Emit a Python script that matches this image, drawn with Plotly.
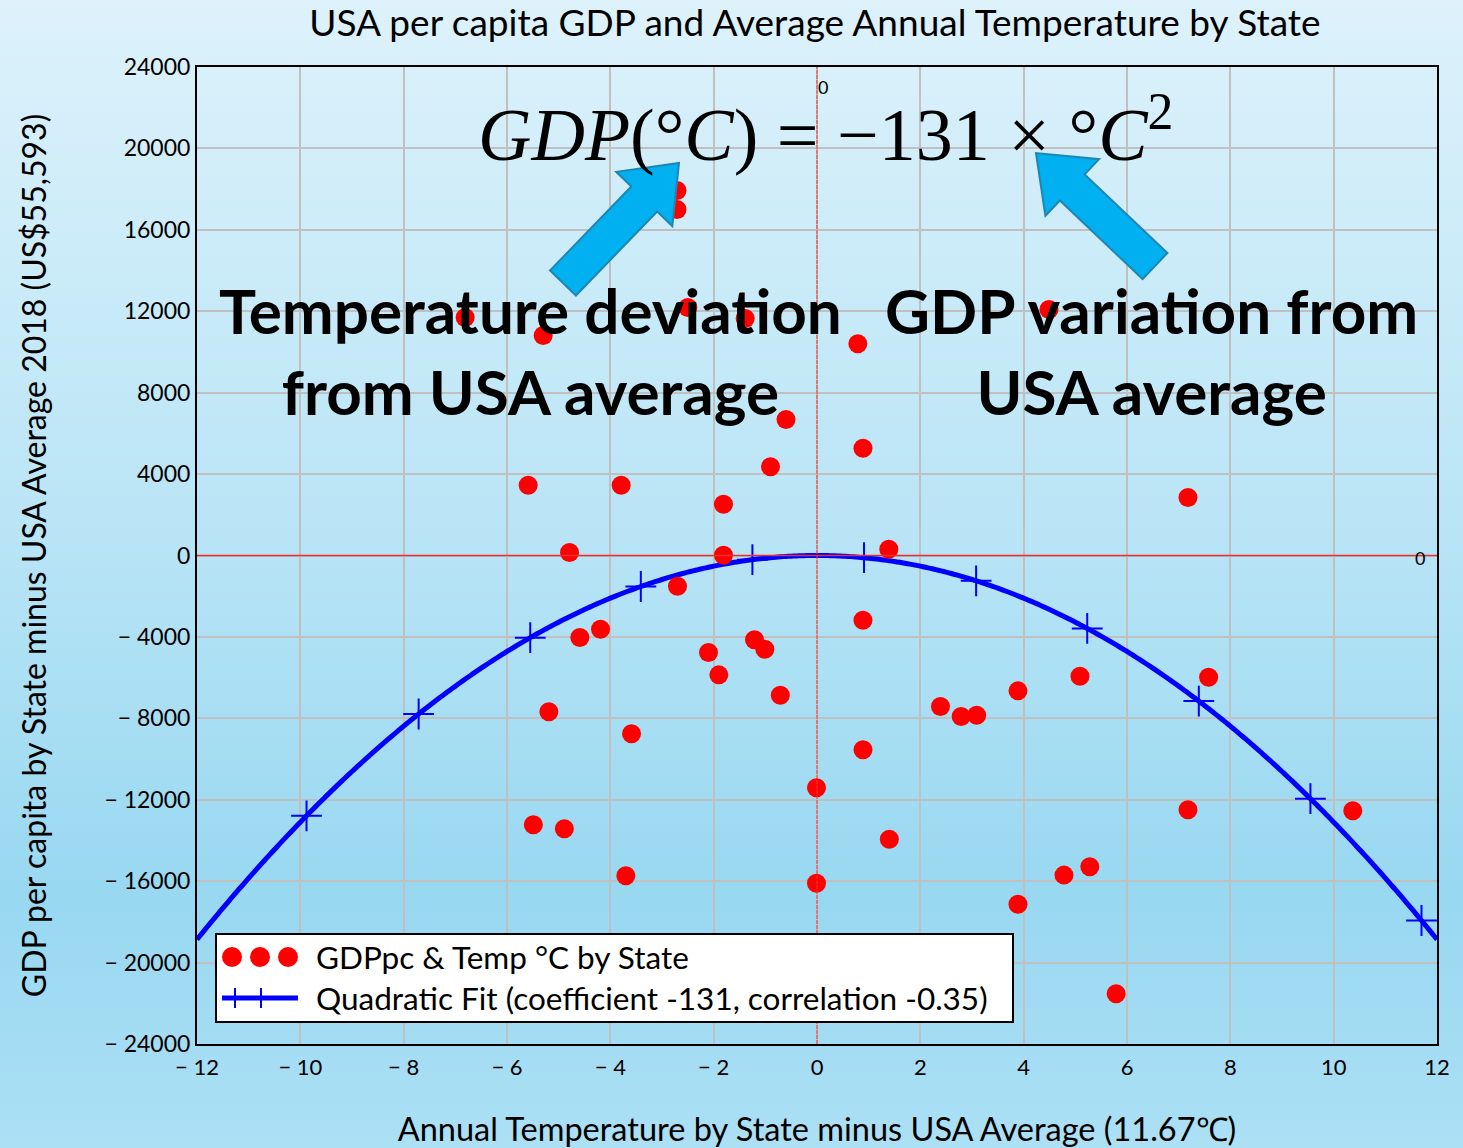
import numpy as np
import plotly.graph_objects as go

# Deviation of each state's mean annual temperature from the US mean (11.67 °C)
temp_dev = [
    -2.71, -2.71, -6.81, -5.30, -2.50, -1.39, 0.79, 4.49,
    -0.60, 0.89, -0.90, -5.59, -3.79, -1.81, 7.18, -4.79,
    -1.81, 1.39, -2.70, 0.89, -4.59, -4.19, -2.10, -1.21,
    -1.01, -1.90, -0.71, 3.89, 5.09, 7.58, 2.39, 2.79,
    3.09, -5.19, -3.59, 0.89, -0.01, 7.18, 10.37, -5.49,
    -4.89, 1.40, -3.70, -0.01, 4.78, 5.28, 3.89, 5.79,
]
# Deviation of each state's 2018 GDP per capita from the US average (US$55,593)
gdp_dev = [
    17933, 16999, 11693, 10809, 12184, 11644, 10401, 12086,
    6682, 5272, 4357, 3454, 3454, 2521, 2850, 147,
    16, 310, -1507, -3179, -4029, -3619, -4766, -4143,
    -4602, -5864, -6863, -6650, -5928, -5977, -7419, -7910,
    -7844, -7680, -8761, -9547, -11413, -12495, -12545, -13231,
    -13427, -13938, -15737, -16099, -15703, -15295, -17131, -21534,
]

# Quadratic fit GDP = coef * dT^2 and the temperatures where its markers sit
FIT_COEF = -131
fit_marker_temps = [-9.88, -7.71, -5.55, -3.41, -1.25, 0.91, 3.08, 5.23, 7.39, 9.55, 11.70]

x_tick_vals = [-12, -10, -8, -6, -4, -2, 0, 2, 4, 6, 8, 10, 12]
x_tick_text = ["\u2212 12", "\u2212 10", "\u2212 8", "\u2212 6", "\u2212 4", "\u2212 2",
               "0", "2", "4", "6", "8", "10", "12"]
y_tick_vals = [-24000, -20000, -16000, -12000, -8000, -4000, 0,
               4000, 8000, 12000, 16000, 20000, 24000]
y_tick_text = ["\u2212 24000", "\u2212 20000", "\u2212 16000", "\u2212 12000", "\u2212 8000",
               "\u2212 4000", "0", "4000", "8000", "12000", "16000", "20000", "24000"]

W, H = 1463, 1148
ML, MR, MT, MB = 197, 26, 67, 104
PW, PH = W - ML - MR, H - MT - MB


def pxx(x):
    return (x - ML) / PW


def pxy(y):
    return 1 - (y - MT) / PH


fig = go.Figure()

# fitted parabola
fit_x = np.linspace(-12, 12, 481)
fig.add_trace(go.Scatter(
    x=fit_x, y=FIT_COEF * fit_x ** 2, mode="lines",
    line=dict(color="#0000ff", width=5, simplify=False), hoverinfo="skip", showlegend=False,
))
mk = np.array(fit_marker_temps)
fig.add_trace(go.Scatter(
    x=mk, y=FIT_COEF * mk ** 2, mode="markers",
    marker=dict(symbol="cross-thin", size=22, line=dict(color="#0000ff", width=2)),
    hoverinfo="skip", showlegend=False,
))
# state points
fig.add_trace(go.Scatter(
    x=temp_dev, y=gdp_dev, mode="markers",
    marker=dict(color="#ff0000", size=19, line=dict(width=0)),
    showlegend=False,
))

shapes = []

# vertical background gradient
stops = [(0.0, (221, 242, 251)), (0.45, (186, 229, 246)),
         (0.78, (152, 216, 241)), (1.0, (172, 224, 245))]


def grad(t):
    for (t0, c0), (t1, c1) in zip(stops[:-1], stops[1:]):
        if t <= t1:
            f = (t - t0) / (t1 - t0)
            return "rgb(%d,%d,%d)" % tuple(round(a + (b - a) * f) for a, b in zip(c0, c1))
    return "rgb(%d,%d,%d)" % stops[-1][1]


band = 8
for y0 in range(0, H, band):
    y1 = min(H, y0 + band + 1)
    shapes.append(dict(type="rect", xref="paper", yref="paper", layer="below",
                       x0=pxx(-5), x1=pxx(W + 5), y0=pxy(y0), y1=pxy(y1),
                       fillcolor=grad((y0 + band / 2) / H), line=dict(width=0)))

# red crosshair through the origin
shapes.append(dict(type="line", xref="x", yref="paper", x0=0, x1=0, y0=0, y1=1,
                   line=dict(color="#ff3030", width=1, dash="4px,1px")))
shapes.append(dict(type="line", xref="paper", yref="y", x0=0, x1=1, y0=0, y1=0,
                   line=dict(color="#e83030", width=1.5)))


# block arrows pointing at the equation
def block_arrow(tail, tip, shaft_w, head_w, head_len):
    t = np.array(tail, float)
    p = np.array(tip, float)
    d = (p - t) / np.linalg.norm(p - t)
    n = np.array([-d[1], d[0]])
    base = p - d * head_len
    pts = [t + n * shaft_w / 2, base + n * shaft_w / 2, base + n * head_w / 2, p,
           base - n * head_w / 2, base - n * shaft_w / 2, t - n * shaft_w / 2]
    path = "M " + " L ".join("%.5f,%.5f" % (pxx(q[0]), pxy(q[1])) for q in pts) + " Z"
    return dict(type="path", xref="paper", yref="paper", path=path,
                fillcolor="#00b0f0", line=dict(color="#1f86b3", width=2))


shapes.append(block_arrow((563, 283), (679, 163), 36, 78, 50))
shapes.append(block_arrow((1155, 266), (1036, 153), 36, 78, 50))

# legend box
LX0, LX1, LY0, LY1 = 216, 1013, 934, 1022
shapes.append(dict(type="rect", xref="paper", yref="paper",
                   x0=pxx(LX0), x1=pxx(LX1), y0=pxy(LY0), y1=pxy(LY1),
                   fillcolor="white", line=dict(color="black", width=2)))
for cx in (232, 260, 288):
    r = 10
    shapes.append(dict(type="circle", xref="paper", yref="paper",
                       x0=pxx(cx - r), x1=pxx(cx + r), y0=pxy(957 - r), y1=pxy(957 + r),
                       fillcolor="#ff0000", line=dict(width=0)))
shapes.append(dict(type="line", xref="paper", yref="paper",
                   x0=pxx(222), x1=pxx(298), y0=pxy(998), y1=pxy(998),
                   line=dict(color="#0000ff", width=5)))
for cx in (235, 261):
    shapes.append(dict(type="line", xref="paper", yref="paper",
                       x0=pxx(cx), x1=pxx(cx), y0=pxy(988), y1=pxy(1008),
                       line=dict(color="#0000ff", width=2)))

font_main = "Lato, 'Open Sans', sans-serif"
annotations = [
    dict(text="GDPpc &amp; Temp \u00b0C by State", xref="paper", yref="paper",
         x=pxx(314), y=pxy(957), xanchor="left", yanchor="middle", showarrow=False,
         font=dict(family=font_main, size=31.5, color="black")),
    dict(text="Quadratic Fit (coefficient -131, correlation -0.35)", xref="paper", yref="paper",
         x=pxx(314), y=pxy(998), xanchor="left", yanchor="middle", showarrow=False,
         font=dict(family=font_main, size=31.5, color="black")),
    dict(text="<i>GDP</i>(\u00b0<i>C</i>) = \u2212131 \u00d7 \u00b0<i>C</i><sup>2</sup>",
         xref="paper", yref="paper", x=pxx(826), y=pxy(130), xanchor="center", yanchor="middle",
         showarrow=False, font=dict(family="'Liberation Serif', 'DejaVu Serif', serif", size=74, color="black")),
    dict(text="<b>Temperature deviation<br>from USA average</b>", xref="paper", yref="paper",
         x=pxx(530), y=pxy(351), xanchor="center", yanchor="middle", showarrow=False,
         font=dict(family=font_main, size=62, color="black")),
    dict(text="<b>GDP variation from<br>USA average</b>", xref="paper", yref="paper",
         x=pxx(1151), y=pxy(351), xanchor="center", yanchor="middle", showarrow=False,
         font=dict(family=font_main, size=62, color="black")),
    dict(text="0", x=0, y=23000, xref="x", yref="y", xanchor="left", yanchor="middle",
         xshift=-1, showarrow=False, font=dict(family=font_main, size=18, color="black")),
    dict(text="0", x=11.67, y=0, xref="x", yref="y", xanchor="center", yanchor="middle",
         yshift=-2, showarrow=False, font=dict(family=font_main, size=18, color="black")),
]

fig.update_layout(
    width=W, height=H,
    margin=dict(l=ML, r=MR, t=MT, b=MB, autoexpand=False),
    paper_bgcolor="#c0e8f8", plot_bgcolor="rgba(0,0,0,0)",
    title=dict(text="USA per capita GDP and Average Annual Temperature by State",
               x=0.557, xanchor="center", y=1 - 23 / H, yanchor="middle", yref="container",
               font=dict(family=font_main, size=37, color="black")),
    shapes=shapes, annotations=annotations, showlegend=False,
)
fig.update_xaxes(
    range=[-12, 12], tickvals=x_tick_vals, ticktext=x_tick_text, automargin=False,
    showgrid=True, gridcolor="#c0c0c0", gridwidth=2, zeroline=False,
    showline=True, mirror=True, linecolor="black", linewidth=2,
    ticks="outside", ticklen=3, tickcolor="rgba(0,0,0,0)",
    tickfont=dict(family=font_main, size=22, color="black"),
    title=dict(text="Annual Temperature by State minus USA Average (11.67\u2103)",
               font=dict(family=font_main, size=32.5, color="black"), standoff=44),
)
fig.update_yaxes(
    range=[-24000, 24000], tickvals=y_tick_vals, ticktext=y_tick_text, automargin=False,
    showgrid=True, gridcolor="#c0c0c0", gridwidth=2, zeroline=False,
    showline=True, mirror=True, linecolor="black", linewidth=2,
    ticks="", tickfont=dict(family=font_main, size=23, color="black"),
    title=dict(text="GDP per capita by State minus USA Average 2018 (US$55,593)",
               font=dict(family=font_main, size=32, color="black"), standoff=48),
)

fig.write_html("out.html")
